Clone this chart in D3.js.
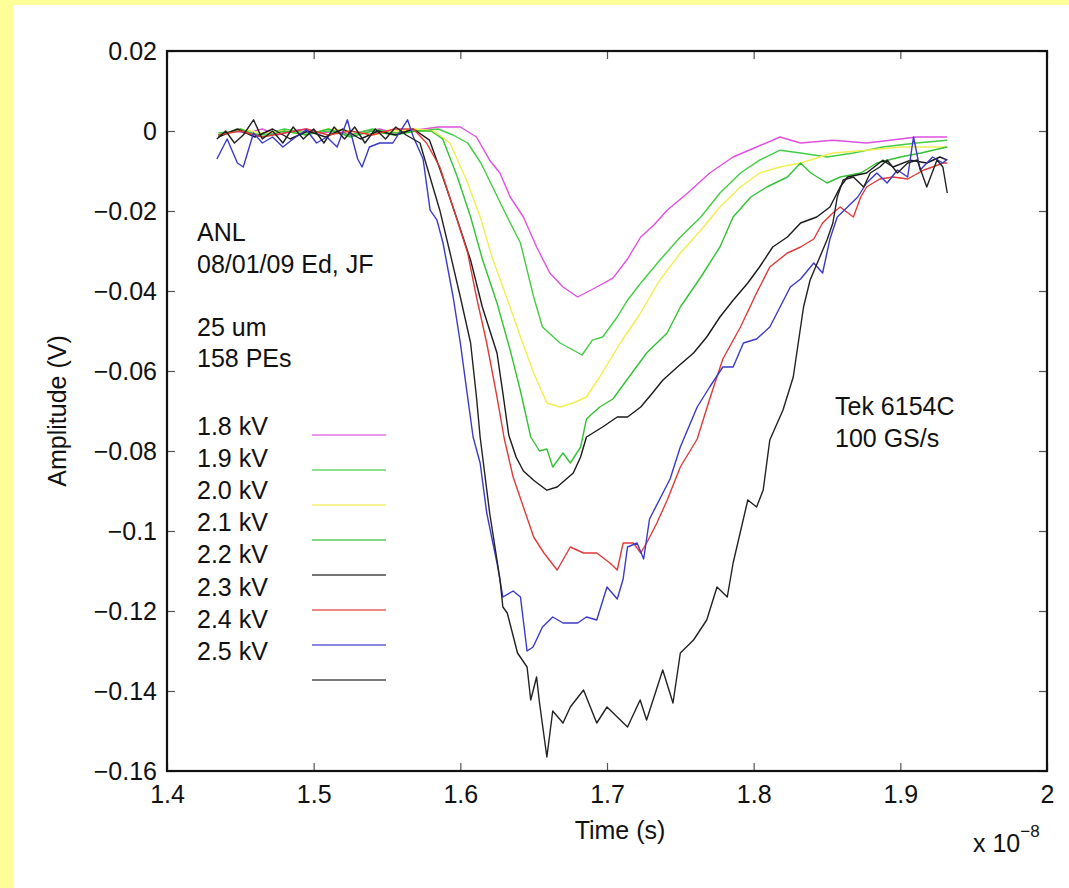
<!DOCTYPE html>
<html><head><meta charset="utf-8">
<script src="https://cdn.jsdelivr.net/npm/d3@7"></script>
<style>
html,body{margin:0;padding:0;background:#fff;}
svg{display:block;font-family:"Liberation Sans",Arial,sans-serif;}
</style></head>
<body>
<svg id="chart" width="1069" height="888"></svg>
<script>
// ---- data (time in units of 1e-8 s, amplitude in V) ----
const seriesNames = ["1.8 kV","1.9 kV","2.0 kV","2.1 kV","2.2 kV","2.3 kV","2.4 kV","2.5 kV"];
const seriesColors = ["#e050e0","#44cc44","#f0ee50","#33c233","#1a1a1a","#e03a3a","#3a3ac8","#222222"];
const xTicks = [1.4,1.5,1.6,1.7,1.8,1.9,2.0];
const xTickLabels = ["1.4","1.5","1.6","1.7","1.8","1.9","2"];
const yTicks = [0.02,0,-0.02,-0.04,-0.06,-0.08,-0.1,-0.12,-0.14,-0.16];
const yTickLabels = ["0.02","0","\u22120.02","\u22120.04","\u22120.06","\u22120.08","\u22120.1","\u22120.12","\u22120.14","\u22120.16"];
const notesLeft = ["ANL","08/01/09 Ed, JF","","25 um","158 PEs"];
const notesRight = ["Tek 6154C","100 GS/s"];

const s18 = [[1.435,-0.001],[1.445,0],[1.455,-0.0005],[1.465,0.0005],[1.475,-0.001],[1.485,0],[1.495,0.0005],[1.505,-0.0005],[1.515,0],[1.525,-0.001],[1.535,0],[1.545,0.0005],[1.555,-0.0005],[1.565,0],[1.575,0.0005],[1.585,0.001],[1.600,0.001],[1.611,-0.0015],[1.620,-0.0073],[1.627,-0.0105],[1.634,-0.0165],[1.643,-0.0215],[1.652,-0.029],[1.661,-0.0355],[1.670,-0.039],[1.680,-0.0415],[1.693,-0.039],[1.704,-0.0368],[1.714,-0.032],[1.723,-0.0265],[1.732,-0.0235],[1.741,-0.0198],[1.755,-0.0155],[1.770,-0.0105],[1.786,-0.0065],[1.802,-0.004],[1.818,-0.0015],[1.832,-0.003],[1.854,-0.0023],[1.877,-0.003],[1.893,-0.0023],[1.911,-0.0015],[1.932,-0.0015]];
const s19 = [[1.435,-0.0005],[1.45,0],[1.465,-0.001],[1.48,0.0005],[1.495,-0.0005],[1.51,0],[1.525,-0.001],[1.54,0.0005],[1.555,-0.0005],[1.57,0],[1.585,0.0005],[1.595,-0.001],[1.605,-0.003],[1.614,-0.008],[1.622,-0.014],[1.632,-0.0215],[1.641,-0.028],[1.650,-0.0415],[1.656,-0.049],[1.668,-0.053],[1.683,-0.056],[1.690,-0.0523],[1.697,-0.0515],[1.707,-0.0465],[1.714,-0.0423],[1.723,-0.038],[1.736,-0.0323],[1.750,-0.0265],[1.764,-0.0215],[1.777,-0.0155],[1.791,-0.0105],[1.804,-0.0073],[1.818,-0.0048],[1.832,-0.0055],[1.850,-0.0065],[1.868,-0.0055],[1.888,-0.004],[1.911,-0.003],[1.932,-0.0023]];
const s20 = [[1.435,-0.001],[1.45,0.0005],[1.465,-0.0005],[1.48,0],[1.495,-0.001],[1.51,0.0005],[1.525,0],[1.54,-0.001],[1.555,0],[1.57,0.0005],[1.582,0],[1.593,-0.003],[1.605,-0.013],[1.614,-0.022],[1.622,-0.032],[1.632,-0.042],[1.641,-0.0515],[1.650,-0.0605],[1.659,-0.068],[1.668,-0.069],[1.677,-0.068],[1.686,-0.0665],[1.695,-0.0615],[1.709,-0.053],[1.722,-0.046],[1.736,-0.0373],[1.750,-0.0305],[1.764,-0.0248],[1.777,-0.019],[1.791,-0.014],[1.804,-0.0105],[1.818,-0.009],[1.832,-0.008],[1.854,-0.0055],[1.877,-0.0048],[1.900,-0.004],[1.932,-0.004]];
const s21 = [[1.435,-0.001],[1.45,0.0005],[1.465,-0.0015],[1.48,0],[1.495,-0.001],[1.51,0.0005],[1.525,-0.0015],[1.54,0],[1.555,-0.001],[1.57,0],[1.58,0],[1.588,-0.002],[1.598,-0.0115],[1.607,-0.0215],[1.615,-0.032],[1.625,-0.043],[1.634,-0.0548],[1.641,-0.065],[1.648,-0.0765],[1.654,-0.080],[1.659,-0.0795],[1.663,-0.084],[1.670,-0.0805],[1.675,-0.083],[1.682,-0.079],[1.686,-0.072],[1.695,-0.069],[1.704,-0.067],[1.714,-0.062],[1.727,-0.0555],[1.741,-0.0505],[1.750,-0.044],[1.764,-0.0365],[1.777,-0.029],[1.786,-0.0215],[1.798,-0.0165],[1.809,-0.014],[1.823,-0.0115],[1.832,-0.008],[1.839,-0.0105],[1.850,-0.013],[1.859,-0.0115],[1.873,-0.0105],[1.884,-0.008],[1.900,-0.0065],[1.914,-0.0055],[1.932,-0.004]];
const s22 = [[1.435,-0.0015],[1.448,0.0005],[1.46,-0.0015],[1.472,0.0005],[1.484,-0.002],[1.496,0],[1.508,-0.0015],[1.52,0.0005],[1.532,-0.002],[1.544,0],[1.556,-0.001],[1.568,0.0005],[1.579,-0.0023],[1.588,-0.0115],[1.598,-0.0223],[1.607,-0.0323],[1.615,-0.044],[1.625,-0.0555],[1.629,-0.0655],[1.633,-0.076],[1.638,-0.0815],[1.643,-0.085],[1.650,-0.0873],[1.659,-0.0898],[1.666,-0.089],[1.677,-0.0855],[1.682,-0.0815],[1.686,-0.0765],[1.697,-0.074],[1.707,-0.0715],[1.714,-0.0715],[1.723,-0.069],[1.731,-0.0655],[1.738,-0.0623],[1.748,-0.059],[1.759,-0.0555],[1.768,-0.0515],[1.777,-0.0465],[1.786,-0.0423],[1.796,-0.038],[1.804,-0.034],[1.813,-0.029],[1.823,-0.0265],[1.832,-0.023],[1.843,-0.0215],[1.852,-0.019],[1.859,-0.014],[1.864,-0.0115],[1.877,-0.0105],[1.888,-0.0073],[1.895,-0.009],[1.907,-0.0073],[1.918,-0.008],[1.927,-0.0065],[1.932,-0.0073]];
const s23 = [[1.435,-0.001],[1.45,0],[1.465,-0.0015],[1.48,-0.0005],[1.495,0.0005],[1.51,-0.001],[1.525,0],[1.54,-0.001],[1.555,0.0005],[1.568,0.0005],[1.577,-0.003],[1.586,-0.009],[1.595,-0.019],[1.605,-0.0305],[1.611,-0.0415],[1.618,-0.053],[1.625,-0.0665],[1.630,-0.077],[1.636,-0.0865],[1.643,-0.094],[1.650,-0.1015],[1.657,-0.1055],[1.666,-0.10975],[1.675,-0.104],[1.684,-0.1055],[1.693,-0.1055],[1.702,-0.108],[1.707,-0.10975],[1.711,-0.103],[1.718,-0.103],[1.723,-0.1055],[1.727,-0.103],[1.734,-0.098],[1.741,-0.0923],[1.750,-0.084],[1.7615,-0.077],[1.770,-0.067],[1.779,-0.057],[1.791,-0.049],[1.802,-0.0405],[1.811,-0.034],[1.823,-0.0305],[1.832,-0.029],[1.841,-0.027],[1.847,-0.023],[1.854,-0.0205],[1.859,-0.019],[1.868,-0.0215],[1.873,-0.0165],[1.877,-0.014],[1.886,-0.012],[1.895,-0.0115],[1.905,-0.012],[1.916,-0.00975],[1.922,-0.009],[1.929,-0.008],[1.932,-0.008]];
const s24 = [[1.434,-0.007],[1.441,-0.002],[1.448,-0.008],[1.452,-0.009],[1.459,-0.0005],[1.465,-0.003],[1.472,-0.0015],[1.479,-0.004],[1.486,-0.002],[1.495,0.0003],[1.502,-0.003],[1.509,-0.0015],[1.516,-0.004],[1.523,0.0028],[1.530,-0.007],[1.533,-0.009],[1.538,-0.004],[1.545,-0.003],[1.554,-0.003],[1.564,0.0028],[1.568,-0.0015],[1.5746,-0.007],[1.5794,-0.0198],[1.5841,-0.0223],[1.5882,-0.028],[1.5951,-0.0415],[1.600,-0.053],[1.6046,-0.0655],[1.6087,-0.0765],[1.6135,-0.083],[1.618,-0.0955],[1.625,-0.108],[1.629,-0.1165],[1.636,-0.115],[1.641,-0.1165],[1.6455,-0.13],[1.6496,-0.129],[1.656,-0.124],[1.663,-0.1215],[1.670,-0.123],[1.680,-0.123],[1.686,-0.1215],[1.693,-0.12225],[1.700,-0.114],[1.707,-0.117],[1.711,-0.112],[1.714,-0.104],[1.7205,-0.103],[1.725,-0.107],[1.729,-0.097],[1.736,-0.092],[1.743,-0.087],[1.750,-0.079],[1.7615,-0.069],[1.770,-0.064],[1.779,-0.059],[1.786,-0.059],[1.793,-0.053],[1.802,-0.052],[1.811,-0.049],[1.818,-0.044],[1.825,-0.039],[1.832,-0.037],[1.841,-0.033],[1.847,-0.0355],[1.852,-0.027],[1.857,-0.0215],[1.864,-0.019],[1.871,-0.0165],[1.877,-0.013],[1.884,-0.0105],[1.891,-0.013],[1.898,-0.00975],[1.905,-0.0115],[1.909,-0.0015],[1.9135,-0.00975],[1.922,-0.0065],[1.929,-0.008],[1.932,-0.007]];
const s25 = [[1.434,-0.002],[1.440,0.000],[1.446,-0.003],[1.452,-0.001],[1.459,0.0028],[1.465,-0.002],[1.472,0.000],[1.479,-0.003],[1.486,0.001],[1.493,-0.002],[1.500,0.0005],[1.507,-0.003],[1.514,0.001],[1.521,-0.002],[1.528,0.001],[1.535,-0.003],[1.542,0.0005],[1.549,-0.002],[1.556,0.001],[1.563,-0.001],[1.5725,-0.003],[1.5773,-0.009],[1.586,-0.0198],[1.593,-0.0305],[1.600,-0.0415],[1.607,-0.053],[1.611,-0.0665],[1.6135,-0.0765],[1.620,-0.0955],[1.627,-0.112],[1.629,-0.119],[1.632,-0.1205],[1.639,-0.1305],[1.6455,-0.134],[1.648,-0.14225],[1.652,-0.1365],[1.654,-0.143],[1.659,-0.1565],[1.663,-0.145],[1.670,-0.148],[1.675,-0.144],[1.684,-0.13975],[1.693,-0.148],[1.700,-0.144],[1.714,-0.149],[1.7226,-0.14225],[1.727,-0.14725],[1.738,-0.13475],[1.745,-0.143],[1.750,-0.1305],[1.759,-0.12725],[1.768,-0.12225],[1.775,-0.114],[1.782,-0.1165],[1.786,-0.108],[1.796,-0.09225],[1.802,-0.094],[1.8065,-0.08975],[1.811,-0.07725],[1.820,-0.06975],[1.827,-0.0615],[1.832,-0.049],[1.834,-0.044],[1.8385,-0.03725],[1.850,-0.02725],[1.854,-0.023],[1.857,-0.0165],[1.861,-0.01225],[1.868,-0.0115],[1.875,-0.014],[1.8795,-0.0105],[1.886,-0.009],[1.891,-0.00725],[1.898,-0.0105],[1.905,-0.008],[1.9115,-0.00725],[1.918,-0.014],[1.925,-0.00725],[1.929,-0.009],[1.932,-0.0155]];
const seriesData = [s18,s19,s20,s21,s22,s23,s24,s25];

// ---- layout ----
const svg = d3.select("#chart");
const W = 1069, H = 888;
const box = {left:167, top:51, right:1047, bottom:771};
const FS = 25;

svg.append("rect").attr("width",W).attr("height",H).attr("fill","#ffff99");
svg.append("rect").attr("x",13).attr("y",5).attr("width",W-13).attr("height",H-5).attr("fill","#ffffff");

const x = d3.scaleLinear().domain([1.4,2.0]).range([box.left, box.right]);
const y = d3.scaleLinear().domain([-0.16,0.02]).range([box.bottom, box.top]);

const g = svg.append("g");

// axes (ticks inward)
function styleAxis(sel){
  sel.select(".domain").remove();
  sel.selectAll(".tick line").attr("stroke","#555").attr("stroke-width",1.2);
  sel.selectAll(".tick text").attr("fill","#111").style("font-size",FS+"px").style("font-family",'"Liberation Sans",Arial,sans-serif');
}
g.append("g").attr("transform",`translate(${box.left},0)`)
  .call(d3.axisLeft(y).tickValues(yTicks).tickFormat((d,i)=>yTickLabels[i]).tickSizeInner(-8).tickSizeOuter(0).tickPadding(10))
  .call(styleAxis);
g.append("g").attr("transform",`translate(${box.right},0)`)
  .call(d3.axisRight(y).tickValues(yTicks).tickFormat("").tickSizeInner(-8).tickSizeOuter(0))
  .call(styleAxis);
g.append("g").attr("transform",`translate(0,${box.bottom})`)
  .call(d3.axisBottom(x).tickValues(xTicks).tickFormat((d,i)=>xTickLabels[i]).tickSizeInner(-8).tickSizeOuter(0).tickPadding(14))
  .call(styleAxis);
g.append("g").attr("transform",`translate(0,${box.top})`)
  .call(d3.axisTop(x).tickValues(xTicks).tickFormat("").tickSizeInner(-8).tickSizeOuter(0))
  .call(styleAxis);

// clip
svg.append("defs").append("clipPath").attr("id","clip")
  .append("rect").attr("x",box.left).attr("y",box.top).attr("width",box.right-box.left).attr("height",box.bottom-box.top);

const line = d3.line().x(d=>x(d[0])).y(d=>y(d[1]));
const lines = svg.append("g").attr("clip-path","url(#clip)");
seriesData.forEach((s,i)=>{
  lines.append("path").datum(s).attr("d",line)
    .attr("fill","none").attr("stroke",seriesColors[i]).attr("stroke-width",1.4)
    .attr("stroke-linejoin","round");
});

// box
svg.append("rect").attr("x",box.left).attr("y",box.top)
  .attr("width",box.right-box.left).attr("height",box.bottom-box.top)
  .attr("fill","none").attr("stroke","#111").attr("stroke-width",2.2);

// axis labels
svg.append("text").attr("x",(box.left+box.right)/2+13).attr("y",839)
  .attr("text-anchor","middle").attr("fill","#111").style("font-size",FS+"px").text("Time (s)");
svg.append("text").attr("transform","translate(66,411) rotate(-90)")
  .attr("text-anchor","middle").attr("fill","#111").style("font-size",FS+"px").text("Amplitude (V)");
const ex = svg.append("text").attr("x",973).attr("y",852).attr("fill","#111").style("font-size",FS+"px");
ex.append("tspan").text("x 10");
ex.append("tspan").attr("dy",-15).style("font-size","17px").text("\u22128");

// annotations
notesLeft.forEach((t,i)=>{
  if(!t) return;
  svg.append("text").attr("x",197).attr("y",241+i*31.5).attr("fill","#111").style("font-size",FS+"px").text(t);
});
notesRight.forEach((t,i)=>{
  svg.append("text").attr("x",835).attr("y",415+i*32).attr("fill","#111").style("font-size",FS+"px").text(t);
});

// legend
seriesNames.forEach((t,i)=>{
  svg.append("text").attr("x",197).attr("y",435+i*32.1).attr("fill","#111").style("font-size",FS+"px").text(t);
});
seriesColors.forEach((c,i)=>{
  svg.append("line").attr("x1",312).attr("x2",386)
    .attr("y1",435+i*35).attr("y2",435+i*35)
    .attr("stroke",c).attr("stroke-width",1.6).attr("opacity",0.8);
});
</script>
</body></html>
